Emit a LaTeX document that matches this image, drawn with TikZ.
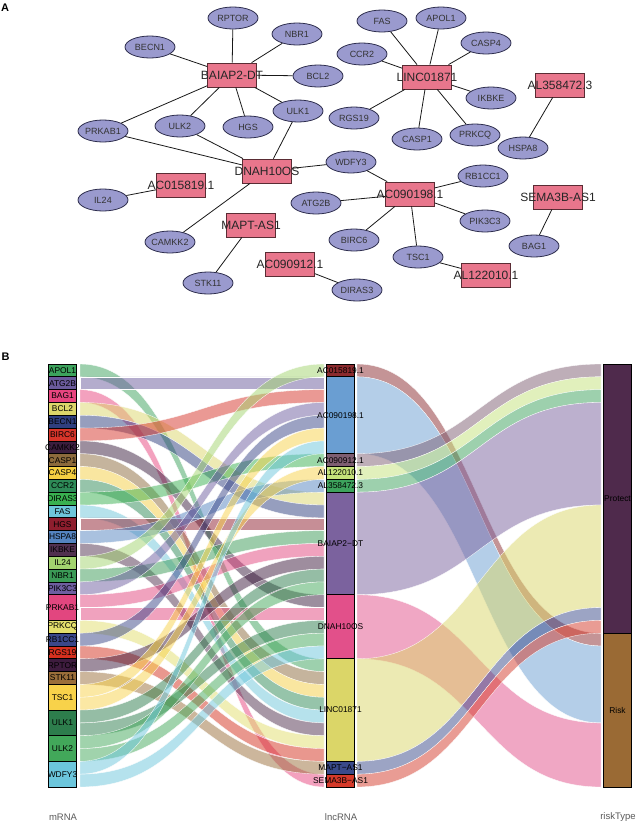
\documentclass[tikz,border=0pt]{standalone}
\usepackage{fontspec}
\setmainfont{Liberation Sans}
\usetikzlibrary{shapes.geometric}
% panel A colours
\definecolor{ellf}{HTML}{9A9ACE}
\definecolor{ellb}{HTML}{2E2E4E}
\definecolor{rctf}{HTML}{E8768C}
\definecolor{rctb}{HTML}{5A2C34}
% mRNA colours
\definecolor{cAPOL1}{HTML}{3DA35D}
\definecolor{cATG2B}{HTML}{6A5A9C}
\definecolor{cBAG1}{HTML}{E8457F}
\definecolor{cBCL2}{HTML}{DCD66A}
\definecolor{cBECN1}{HTML}{2F3F7F}
\definecolor{cBIRC6}{HTML}{D7352A}
\definecolor{cCAMKK2}{HTML}{3B1E3E}
\definecolor{cCASP1}{HTML}{8C6A3C}
\definecolor{cCASP4}{HTML}{F5CF42}
\definecolor{cCCR2}{HTML}{2E8A57}
\definecolor{cDIRAS3}{HTML}{39B050}
\definecolor{cFAS}{HTML}{6EC6DA}
\definecolor{cHGS}{HTML}{8E1E2E}
\definecolor{cHSPA8}{HTML}{5484C0}
\definecolor{cIKBKE}{HTML}{50304F}
\definecolor{cIL24}{HTML}{A3D46F}
\definecolor{cNBR1}{HTML}{3B9A56}
\definecolor{cPIK3C3}{HTML}{6E5EA0}
\definecolor{cPRKAB1}{HTML}{E2467F}
\definecolor{cPRKCQ}{HTML}{E3DE6C}
\definecolor{cRB1CC1}{HTML}{3A4789}
\definecolor{cRGS19}{HTML}{D5301F}
\definecolor{cRPTOR}{HTML}{3E1C3E}
\definecolor{cSTK11}{HTML}{9A6E3A}
\definecolor{cTSC1}{HTML}{F8D24A}
\definecolor{cULK1}{HTML}{2D7D4C}
\definecolor{cULK2}{HTML}{42A85A}
\definecolor{cWDFY3}{HTML}{6CC6DC}
% lncRNA colours
\definecolor{cAC015}{HTML}{8B2B2E}
\definecolor{cAC0901}{HTML}{6A9ED2}
\definecolor{cAC0909}{HTML}{7E5E72}
\definecolor{cAL122}{HTML}{C5E27A}
\definecolor{cAL358}{HTML}{3DA35D}
\definecolor{cBAIAP}{HTML}{7B629E}
\definecolor{cDNAH}{HTML}{E2508A}
\definecolor{cLINC}{HTML}{DBD668}
\definecolor{cMAPT}{HTML}{3A4A8A}
\definecolor{cSEMA}{HTML}{D53A2A}
\definecolor{cProt}{HTML}{4F2A4C}
\definecolor{cRisk}{HTML}{9A6A34}
\definecolor{axg}{HTML}{5A5A5A}
\def\Yz{364}
\def\U{12.818}
\newcommand\el[3]{\node[ell] (#1) at (#2) {\makebox[0pt]{#3}};}
\newcommand\rc[3]{\node[rct] (#1) at (#2) {\makebox[0pt]{#3}};}
\newcommand\st[6]{\node[strat, fill=#5, minimum height={#4*\U*1pt}] (#1) at (#2,{\Yz+(#3+#4/2)*\U}) {\makebox[0pt]{#6}};}
\newcommand\lf[3]{\path[flow, fill=#1] (80,{\Yz+#2*\U}) .. controls (202,{\Yz+#2*\U}) and (202,{\Yz+#3*\U}) .. (324,{\Yz+#3*\U}) -- (324,{\Yz+(#3+1)*\U}) .. controls (202,{\Yz+(#3+1)*\U}) and (202,{\Yz+(#2+1)*\U}) .. (80,{\Yz+(#2+1)*\U}) -- cycle;}
\newcommand\rf[4]{\path[flow, fill=#1] (357,{\Yz+#2*\U}) .. controls (479,{\Yz+#2*\U}) and (479,{\Yz+#3*\U}) .. (601,{\Yz+#3*\U}) -- (601,{\Yz+(#3+#4)*\U}) .. controls (479,{\Yz+(#3+#4)*\U}) and (479,{\Yz+(#2+#4)*\U}) .. (357,{\Yz+(#2+#4)*\U}) -- cycle;}
\begin{document}
\begin{tikzpicture}[x=1pt,y=-1pt,
  ell/.style={ellipse, draw=ellb, fill=ellf, line width=0.8pt, minimum width=50pt, minimum height=22pt, inner sep=0pt, text=black!80, font=\fontsize{9}{9}\selectfont},
  rct/.style={rectangle, draw=rctb, fill=rctf, line width=0.8pt, minimum width=49pt, minimum height=24pt, inner sep=0pt, text=black!85, font=\fontsize{12}{12}\selectfont},
  edge/.style={draw=black!90, line width=0.8pt},
  strat/.style={rectangle, draw=black, line width=0.7pt, minimum width=28.5pt, inner sep=0pt, text=black, font=\fontsize{8.4}{8.4}\selectfont},
  flow/.style={fill opacity=0.5, draw=white, line width=0.3pt},
  axl/.style={text=axg, font=\fontsize{9.5}{9.5}\selectfont},
  plab/.style={font=\bfseries\fontsize{11}{11}\selectfont}]
\fill[white] (0,0) rectangle (638,825);
\useasboundingbox (0,0) rectangle (638,825);
\node[plab] (labA) at (5,8) {A};
\node[plab] (labB) at (5.5,357) {B};
% ---------- panel A nodes ----------
\el{rptor}{233,18}{RPTOR}
\el{nbr1}{297,34}{NBR1}
\el{becn1}{150,47}{BECN1}
\el{bcl2}{318,76}{BCL2}
\el{ulk1}{298,111}{ULK1}
\el{hgs}{248,127}{HGS}
\el{ulk2}{180,126}{ULK2}
\el{prkab1}{103,131}{PRKAB1}
\el{fas}{382,21}{FAS}
\el{apol1}{441,18}{APOL1}
\el{casp4}{486,43}{CASP4}
\el{ccr2}{362,54}{CCR2}
\el{ikbke}{491,98}{IKBKE}
\el{rgs19}{354,118}{RGS19}
\el{casp1}{417,139}{CASP1}
\el{prkcq}{475,135}{PRKCQ}
\el{hspa8}{523,148}{HSPA8}
\el{il24}{103,200}{IL24}
\el{camkk2}{170,242}{CAMKK2}
\el{stk11}{208,283}{STK11}
\el{wdfy3}{351,162}{WDFY3}
\el{rb1cc1}{483,176}{RB1CC1}
\el{atg2b}{316,203}{ATG2B}
\el{pik3c3}{485,221}{PIK3C3}
\el{birc6}{354,240}{BIRC6}
\el{tsc1}{418,257}{TSC1}
\el{diras3}{357,290}{DIRAS3}
\el{bag1}{534,246}{BAG1}
\rc{baiap}{232,75}{BAIAP2-DT}
\rc{linc}{427,77}{LINC01871}
\rc{alb}{560,85}{AL358472.3}
\rc{dnah}{267,171}{DNAH10OS}
\rc{aca}{181,185}{AC015819.1}
\rc{mapt}{251,225}{MAPT-AS1}
\rc{acc}{290,264}{AC090912.1}
\rc{acb}{410,194}{AC090198.1}
\rc{ala}{486,275}{AL122010.1}
\rc{sema}{558,197}{SEMA3B-AS1}
% ---------- panel A edges ----------
\foreach \t in {rptor,nbr1,becn1,bcl2,ulk1,hgs,ulk2,prkab1} \draw[edge] (baiap) -- (\t);
\foreach \t in {fas,apol1,casp4,ccr2,ikbke,rgs19,casp1,prkcq} \draw[edge] (linc) -- (\t);
\foreach \t in {prkab1,ulk2,ulk1,wdfy3,camkk2} \draw[edge] (dnah) -- (\t);
\foreach \t in {wdfy3,atg2b,rb1cc1,pik3c3,birc6,tsc1} \draw[edge] (acb) -- (\t);
\draw[edge] (alb) -- (hspa8);
\draw[edge] (aca) -- (il24);
\draw[edge] (mapt) -- (stk11);
\draw[edge] (acc) -- (diras3);
\draw[edge] (ala) -- (tsc1);
\draw[edge] (sema) -- (bag1);
% ---------- panel B flows mRNA -> lncRNA ----------
\lf{cAPOL1}{0}{23}
\lf{cATG2B}{1}{1}
\lf{cBAG1}{2}{32}
\lf{cBCL2}{3}{10}
\lf{cBECN1}{4}{11}
\lf{cBIRC6}{5}{2}
\lf{cCAMKK2}{6}{18}
\lf{cCASP1}{7}{24}
\lf{cCASP4}{8}{25}
\lf{cCCR2}{9}{26}
\lf{cDIRAS3}{10}{7}
\lf{cFAS}{11}{27}
\lf{cHGS}{12}{12}
\lf{cHSPA8}{13}{9}
\lf{cIKBKE}{14}{28}
\lf{cIL24}{15}{0}
\lf{cNBR1}{16}{13}
\lf{cPIK3C3}{17}{3}
\lf{cPRKAB1}{18}{14}
\lf{cPRKAB1}{19}{19}
\lf{cPRKCQ}{20}{29}
\lf{cRB1CC1}{21}{4}
\lf{cRGS19}{22}{30}
\lf{cRPTOR}{23}{15}
\lf{cSTK11}{24}{31}
\lf{cTSC1}{25}{5}
\lf{cTSC1}{26}{8}
\lf{cULK1}{27}{16}
\lf{cULK1}{28}{20}
\lf{cULK2}{29}{17}
\lf{cULK2}{30}{21}
\lf{cWDFY3}{31}{6}
\lf{cWDFY3}{32}{22}
% ---------- panel B flows lncRNA -> riskType ----------
\rf{cAC015}{0}{21}{1}
\rf{cAC0901}{1}{22}{6}
\rf{cAC0909}{7}{0}{1}
\rf{cAL122}{8}{1}{1}
\rf{cAL358}{9}{2}{1}
\rf{cBAIAP}{10}{3}{8}
\rf{cDNAH}{18}{28}{5}
\rf{cLINC}{23}{11}{8}
\rf{cMAPT}{31}{19}{1}
\rf{cSEMA}{32}{20}{1}
% ---------- panel B strata ----------
\st{mAPOL1}{62.5}{0}{1}{cAPOL1}{APOL1}
\st{mATG2B}{62.5}{1}{1}{cATG2B}{ATG2B}
\st{mBAG1}{62.5}{2}{1}{cBAG1}{BAG1}
\st{mBCL2}{62.5}{3}{1}{cBCL2}{BCL2}
\st{mBECN1}{62.5}{4}{1}{cBECN1}{BECN1}
\st{mBIRC6}{62.5}{5}{1}{cBIRC6}{BIRC6}
\st{mCAMKK2}{62.5}{6}{1}{cCAMKK2}{CAMKK2}
\st{mCASP1}{62.5}{7}{1}{cCASP1}{CASP1}
\st{mCASP4}{62.5}{8}{1}{cCASP4}{CASP4}
\st{mCCR2}{62.5}{9}{1}{cCCR2}{CCR2}
\st{mDIRAS3}{62.5}{10}{1}{cDIRAS3}{DIRAS3}
\st{mFAS}{62.5}{11}{1}{cFAS}{FAS}
\st{mHGS}{62.5}{12}{1}{cHGS}{HGS}
\st{mHSPA8}{62.5}{13}{1}{cHSPA8}{HSPA8}
\st{mIKBKE}{62.5}{14}{1}{cIKBKE}{IKBKE}
\st{mIL24}{62.5}{15}{1}{cIL24}{IL24}
\st{mNBR1}{62.5}{16}{1}{cNBR1}{NBR1}
\st{mPIK3C3}{62.5}{17}{1}{cPIK3C3}{PIK3C3}
\st{mPRKAB1}{62.5}{18}{2}{cPRKAB1}{PRKAB1}
\st{mPRKCQ}{62.5}{20}{1}{cPRKCQ}{PRKCQ}
\st{mRB1CC1}{62.5}{21}{1}{cRB1CC1}{RB1CC1}
\st{mRGS19}{62.5}{22}{1}{cRGS19}{RGS19}
\st{mRPTOR}{62.5}{23}{1}{cRPTOR}{RPTOR}
\st{mSTK11}{62.5}{24}{1}{cSTK11}{STK11}
\st{mTSC1}{62.5}{25}{2}{cTSC1}{TSC1}
\st{mULK1}{62.5}{27}{2}{cULK1}{ULK1}
\st{mULK2}{62.5}{29}{2}{cULK2}{ULK2}
\st{mWDFY3}{62.5}{31}{2}{cWDFY3}{WDFY3}
\st{lAC015}{340.5}{0}{1}{cAC015}{AC015819.1}
\st{lAC0901}{340.5}{1}{6}{cAC0901}{AC090198.1}
\st{lAC0909}{340.5}{7}{1}{cAC0909}{AC090912.1}
\st{lAL122}{340.5}{8}{1}{cAL122}{AL122010.1}
\st{lAL358}{340.5}{9}{1}{cAL358}{AL358472.3}
\st{lBAIAP}{340.5}{10}{8}{cBAIAP}{BAIAP2−DT}
\st{lDNAH}{340.5}{18}{5}{cDNAH}{DNAH10OS}
\st{lLINC}{340.5}{23}{8}{cLINC}{LINC01871}
\st{lMAPT}{340.5}{31}{1}{cMAPT}{MAPT−AS1}
\st{lSEMA}{340.5}{32}{1}{cSEMA}{SEMA3B−AS1}
\st{rProt}{617.5}{0}{21}{cProt}{Protect}
\st{rRisk}{617.5}{21}{12}{cRisk}{Risk}
% ---------- axis labels ----------
\node[axl] (axm) at (63,817) {mRNA};
\node[axl] (axl) at (341,817) {lncRNA};
\node[axl] (axr) at (618,817) {riskType};
\end{tikzpicture}
\end{document}
